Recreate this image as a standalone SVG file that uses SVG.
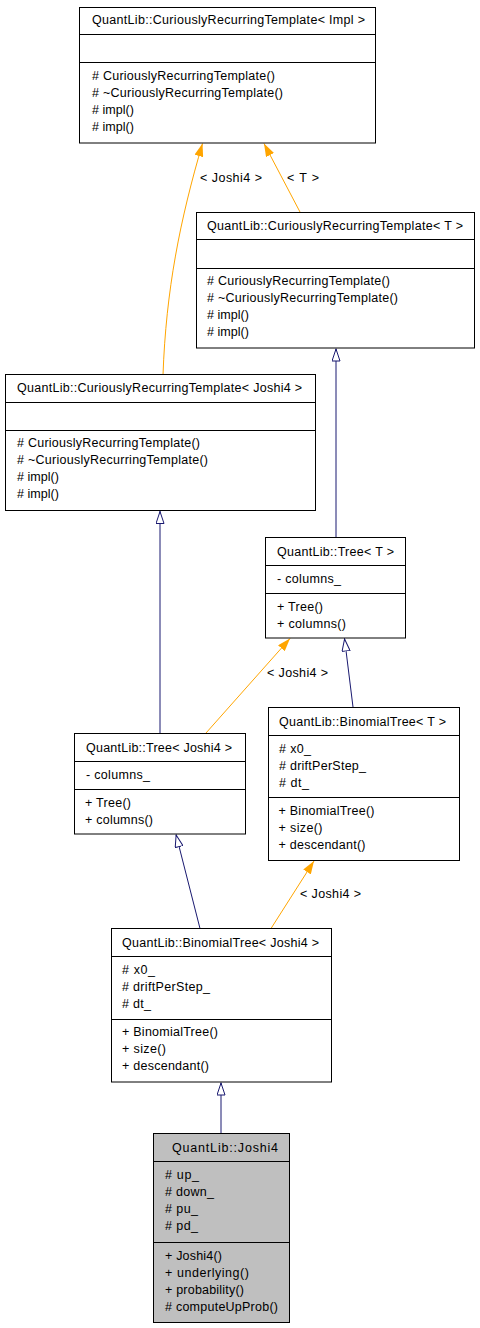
<svg xmlns="http://www.w3.org/2000/svg" width="480" height="1328" viewBox="0 0 480 1328">
<style>
text{font-family:"Liberation Sans",Arial,sans-serif;font-size:12.5px;fill:#000}
.box{fill:#fff;stroke:#000;stroke-width:1}
.gray{fill:#bfbfbf}
.sep{stroke:#000;stroke-width:1}
.inh{fill:none;stroke:#191970;stroke-width:1;marker-end:url(#hollow)}
.tpl{fill:none;stroke:#ffa500;stroke-width:1;marker-end:url(#filled)}
</style>
<defs>
<marker id="hollow" viewBox="0 0 13 9" refX="13" refY="4.5" markerWidth="13" markerHeight="9" orient="auto" markerUnits="userSpaceOnUse">
<path d="M0.5,0.5 L12.5,4.5 L0.5,8.5 z" fill="#fff" stroke="#191970" stroke-width="1"/>
</marker>
<marker id="filled" viewBox="0 0 13 9" refX="13" refY="4.5" markerWidth="13" markerHeight="9" orient="auto" markerUnits="userSpaceOnUse">
<path d="M0,0 L13,4.5 L0,9 z" fill="#ffa500"/>
</marker>
</defs>

<g id="connectors">
<path class="tpl" d="M163,375 C166,290 180,220 202.5,143.5"/>
<text x="200" y="182" textLength="62">&lt; Joshi4 &gt;</text>
<path class="tpl" d="M300,212 L264,143.5"/>
<text x="287" y="182" textLength="32">&lt; T &gt;</text>
<path class="inh" d="M336,537 L336,348.5"/>
<path class="inh" d="M160,733 L160,511"/>
<path class="tpl" d="M206,733 L290,638.5"/>
<text x="267" y="677" textLength="61">&lt; Joshi4 &gt;</text>
<path class="inh" d="M353,707 L344.5,638.5"/>
<path class="inh" d="M200,928.5 L176,834.5"/>
<path class="tpl" d="M271,928.5 L314,861"/>
<text x="300" y="898" textLength="61">&lt; Joshi4 &gt;</text>
<path class="inh" d="M221,1133 L221,1082.5"/>
</g>

<g id="crt-impl">
<rect class="box" x="79.5" y="7.5" width="296" height="135.5"/>
<line class="sep" x1="79.5" y1="34.5" x2="375.5" y2="34.5"/>
<line class="sep" x1="79.5" y1="62.5" x2="375.5" y2="62.5"/>
<text x="92" y="24" textLength="273">QuantLib::CuriouslyRecurringTemplate&lt; Impl &gt;</text>
<text x="92" y="80" textLength="183"># CuriouslyRecurringTemplate()</text>
<text x="92" y="97" textLength="191"># ~CuriouslyRecurringTemplate()</text>
<text x="92" y="114" textLength="42"># impl()</text>
<text x="92" y="131" textLength="42"># impl()</text>
</g>

<g id="crt-t">
<rect class="box" x="196.5" y="212.5" width="278" height="135.5"/>
<line class="sep" x1="196.5" y1="239.5" x2="474.5" y2="239.5"/>
<line class="sep" x1="196.5" y1="268.5" x2="474.5" y2="268.5"/>
<text x="207" y="230" textLength="256">QuantLib::CuriouslyRecurringTemplate&lt; T &gt;</text>
<text x="207" y="285" textLength="183"># CuriouslyRecurringTemplate()</text>
<text x="207" y="302" textLength="191"># ~CuriouslyRecurringTemplate()</text>
<text x="207" y="319" textLength="42"># impl()</text>
<text x="207" y="336" textLength="42"># impl()</text>
</g>

<g id="crt-joshi4">
<rect class="box" x="5.5" y="374.5" width="310" height="136"/>
<line class="sep" x1="5.5" y1="402.5" x2="315.5" y2="402.5"/>
<line class="sep" x1="5.5" y1="430.5" x2="315.5" y2="430.5"/>
<text x="17" y="392" textLength="285">QuantLib::CuriouslyRecurringTemplate&lt; Joshi4 &gt;</text>
<text x="17" y="447" textLength="183"># CuriouslyRecurringTemplate()</text>
<text x="17" y="464" textLength="191"># ~CuriouslyRecurringTemplate()</text>
<text x="17" y="481" textLength="42"># impl()</text>
<text x="17" y="498" textLength="42"># impl()</text>
</g>

<g id="tree-t">
<rect class="box" x="265.5" y="537.5" width="140" height="100.5"/>
<line class="sep" x1="265.5" y1="565.5" x2="405.5" y2="565.5"/>
<line class="sep" x1="265.5" y1="593.5" x2="405.5" y2="593.5"/>
<text x="277" y="556" textLength="117">QuantLib::Tree&lt; T &gt;</text>
<text x="277" y="583" textLength="64">- columns_</text>
<text x="277" y="611" textLength="46">+ Tree()</text>
<text x="277" y="628" textLength="69">+ columns()</text>
</g>

<g id="tree-joshi4">
<rect class="box" x="74.5" y="733.5" width="171" height="100.5"/>
<line class="sep" x1="74.5" y1="761.5" x2="245.5" y2="761.5"/>
<line class="sep" x1="74.5" y1="789.5" x2="245.5" y2="789.5"/>
<text x="86" y="752" textLength="146">QuantLib::Tree&lt; Joshi4 &gt;</text>
<text x="86" y="779" textLength="64">- columns_</text>
<text x="85" y="807" textLength="46">+ Tree()</text>
<text x="85" y="824" textLength="68">+ columns()</text>
</g>

<g id="binomial-t">
<rect class="box" x="268.5" y="707.5" width="191" height="153"/>
<line class="sep" x1="268.5" y1="735.5" x2="459.5" y2="735.5"/>
<line class="sep" x1="268.5" y1="797.5" x2="459.5" y2="797.5"/>
<text x="279" y="726" textLength="167">QuantLib::BinomialTree&lt; T &gt;</text>
<text x="279" y="753" textLength="32"># x0_</text>
<text x="279" y="770" textLength="87"># driftPerStep_</text>
<text x="279" y="787" textLength="30"># dt_</text>
<text x="278.5" y="815" textLength="96">+ BinomialTree()</text>
<text x="278.5" y="832" textLength="44">+ size()</text>
<text x="278.5" y="849" textLength="87">+ descendant()</text>
</g>

<g id="binomial-joshi4">
<rect class="box" x="111.5" y="928.5" width="220" height="153.5"/>
<line class="sep" x1="111.5" y1="956.5" x2="331.5" y2="956.5"/>
<line class="sep" x1="111.5" y1="1019.5" x2="331.5" y2="1019.5"/>
<text x="122" y="947" textLength="197">QuantLib::BinomialTree&lt; Joshi4 &gt;</text>
<text x="122" y="974" textLength="33"># x0_</text>
<text x="122" y="991" textLength="88"># driftPerStep_</text>
<text x="122" y="1008" textLength="29"># dt_</text>
<text x="122" y="1036" textLength="96">+ BinomialTree()</text>
<text x="122" y="1053" textLength="44">+ size()</text>
<text x="122" y="1070" textLength="87">+ descendant()</text>
</g>

<g id="joshi4">
<rect class="box gray" x="153.5" y="1133.5" width="136" height="189"/>
<line class="sep" x1="153.5" y1="1161.5" x2="289.5" y2="1161.5"/>
<line class="sep" x1="153.5" y1="1242.5" x2="289.5" y2="1242.5"/>
<text x="172" y="1152" textLength="106">QuantLib::Joshi4</text>
<text x="165" y="1179" textLength="34"># up_</text>
<text x="165" y="1196" textLength="49"># down_</text>
<text x="165" y="1213" textLength="33"># pu_</text>
<text x="165" y="1230" textLength="33"># pd_</text>
<text x="165" y="1260" textLength="57">+ Joshi4()</text>
<text x="165" y="1277" textLength="84">+ underlying()</text>
<text x="165" y="1294" textLength="79">+ probability()</text>
<text x="165" y="1311" textLength="113"># computeUpProb()</text>
</g>
</svg>
